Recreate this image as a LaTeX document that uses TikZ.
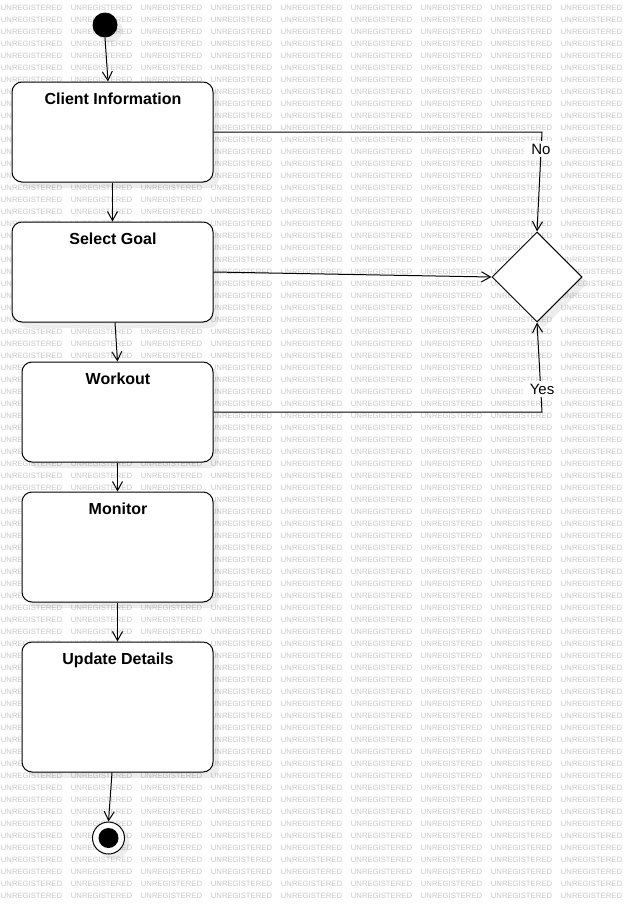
\documentclass[tikz,border=0pt]{standalone}
\usepackage{fontspec}
\setmainfont{Liberation Sans}
\usetikzlibrary{arrows.meta,shapes.geometric,shadows,calc}
\definecolor{wmgray}{RGB}{200,200,200}
\tikzset{
  wm/.style={text=wmgray, font=\fontsize{7.7}{8}\selectfont, inner sep=0pt, anchor=center},
  actbox/.style={draw=black, line width=1pt, fill=white, rounded corners=10pt, inner sep=0pt,
    drop shadow={fill=black, opacity=0.07, shadow xshift=6pt, shadow yshift=-6pt}},
  title/.style={font=\fontsize{16}{18}\selectfont\bfseries, anchor=base, inner sep=0pt},
  flow/.style={draw=black, line width=1pt, -{Straight Barb[length=9pt,width=10pt,line width=1pt]}},
  guard/.style={fill=white, font=\fontsize{15}{17}\selectfont, anchor=base, inner xsep=7pt, inner ysep=3pt},
  decision/.style={diamond, draw=black, line width=1pt, fill=white, inner sep=0pt,
    minimum width=90pt, minimum height=90pt,
    drop shadow={fill=black, opacity=0.07, shadow xshift=6pt, shadow yshift=-6pt}},
}
\begin{document}
\begin{tikzpicture}[x=1pt,y=-1pt]
\clip (0,0) rectangle (632,905);
\fill[white] (0,0) rectangle (632,905);
% watermark
\foreach \r in {0,...,74}{
  \foreach \c in {0,...,8}{
    \node[wm] (w-\r-\c) at ({70*\c+31.5},{7.5+12*\r}) {UNREGISTERED};
  }
}
% start
\node[circle, fill=black, minimum size=25pt, inner sep=0pt,
  drop shadow={fill=black, opacity=0.07, shadow xshift=5pt, shadow yshift=-5pt}] (s) at (105,25) {};
% activities
\node[actbox, minimum width=201pt, minimum height=100pt] (ci) at (112.5,132) {};
\node[actbox, minimum width=201pt, minimum height=100pt] (sg) at (112.5,272) {};
\node[actbox, minimum width=191pt, minimum height=100pt] (wo) at (117.5,412) {};
\node[actbox, minimum width=191pt, minimum height=110pt] (mo) at (117.5,547) {};
\node[actbox, minimum width=191pt, minimum height=130pt] (ud) at (117.5,707) {};
\node[title] (tci) at (113,104) {Client Information};
\node[title] (tsg) at (113,244) {Select Goal};
\node[title] (two) at (118,384) {Workout};
\node[title] (tmo) at (118,514) {Monitor};
\node[title] (tud) at (118,664) {Update Details};
% decision
\node[decision] (d) at (537,277) {};
% end
\node[circle, draw=black, line width=1pt, fill=white, minimum size=32pt, inner sep=0pt,
  drop shadow={fill=black, opacity=0.07, shadow xshift=5pt, shadow yshift=-5pt}] (e) at (108.5,838) {};
\node[circle, fill=black, minimum size=20pt, inner sep=0pt] (ei) at (e.center) {};
% flows
\draw[flow] (s.south) -- ([xshift=-4.5pt]ci.north);
\draw[flow] (ci.south) -- (sg.north);
\draw[flow] ([xshift=2.5pt]sg.south) -- (wo.north);
\draw[flow] (wo.south) -- (mo.north);
\draw[flow] (mo.south) -- (ud.north);
\draw[flow] ([xshift=-5.5pt]ud.south) -- (e.north);
\coordinate (nobend) at (542,132);
\coordinate (yesbend) at (542,412);
\draw[flow] (ci.east) -- (nobend) -- (d.north);
\draw[flow] (sg.east) -- (d.west);
\draw[flow] (wo.east) -- (yesbend) -- (d.south);
\node[guard] (no) at (541,154) {No};
\node[guard] (yes) at (542,394) {Yes};
\end{tikzpicture}
\end{document}
